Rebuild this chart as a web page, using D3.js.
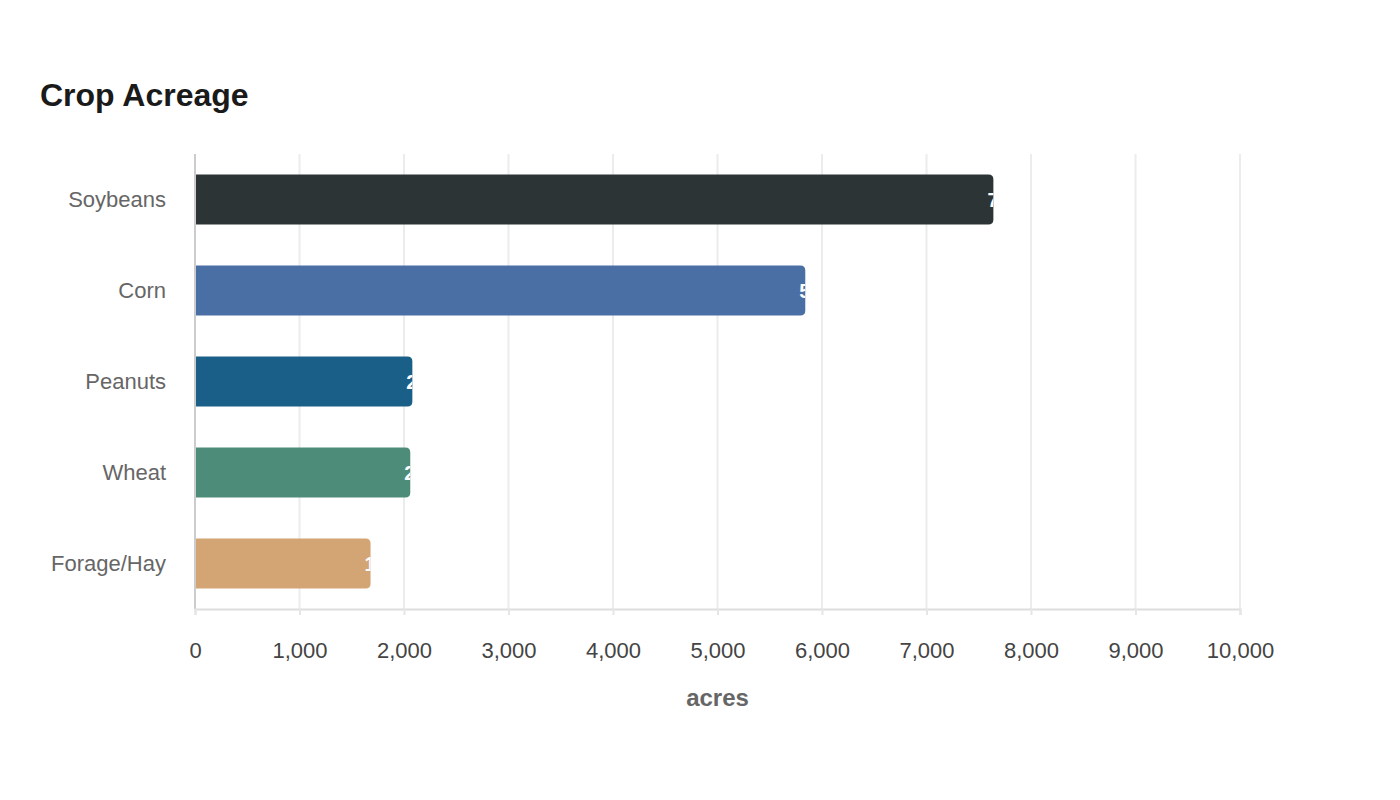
<!DOCTYPE html>
<html>
<head>
<meta charset="utf-8">
<script src="https://cdn.jsdelivr.net/npm/d3@7"></script>
<style>
  body { margin: 0; background: #fff; }
  svg { font-family: "Liberation Sans", Arial, sans-serif; }
</style>
</head>
<body>
<svg width="1400" height="800"></svg>
<script>
const crops = ['Soybeans', 'Corn', 'Peanuts', 'Wheat', 'Forage/Hay'];
const acres = [7640, 5840, 2080, 2060, 1680];
const colors = ['#2d3436', '#4a6fa5', '#1a5f87', '#4e8c7a', '#d4a574'];
const xTicks = [0, 1000, 2000, 3000, 4000, 5000, 6000, 7000, 8000, 9000, 10000];

const margin = { top: 154, right: 160, bottom: 191, left: 195 };
const width = 1400 - margin.left - margin.right;
const height = 800 - margin.top - margin.bottom;

const svg = d3.select('svg');

svg.append('text')
    .attr('x', 40)
    .attr('y', 106)
    .attr('font-size', '32px')
    .attr('font-weight', 'bold')
    .attr('fill', '#1a1a1a')
    .text('Crop Acreage');

const g = svg.append('g')
    .attr('transform', 'translate(' + margin.left + ',' + margin.top + ')');

const x = d3.scaleLinear().domain([0, 10000]).range([0, width]);
const y = d3.scaleBand().domain(crops).range([0, height])
    .paddingInner(0.45).paddingOuter(0.225);

// bars, rounded on the right end only
const r = 5;
function barPath(w, h) {
    return 'M0,0H' + (w - r) + 'Q' + w + ',0 ' + w + ',' + r +
        'V' + (h - r) + 'Q' + w + ',' + h + ' ' + (w - r) + ',' + h + 'H0Z';
}

// value labels sit under the grid, so they only show on the bar itself
const labels = g.append('g');

// grid
g.append('g')
    .selectAll('line')
    .data(xTicks)
    .enter().append('line')
    .attr('x1', d => x(d))
    .attr('x2', d => x(d))
    .attr('y1', 0)
    .attr('y2', height)
    .attr('stroke', '#ececec')
    .attr('stroke-width', 2);

const bar = g.append('g')
    .selectAll('path')
    .data(crops)
    .enter().append('path')
    .attr('transform', d => 'translate(0,' + y(d) + ')')
    .attr('d', (d, i) => barPath(x(acres[i]), y.bandwidth()))
    .attr('fill', (d, i) => colors[i]);

// labels drawn again on top, clipped to each bar
const defs = svg.append('defs');
crops.forEach((c, i) => {
    defs.append('clipPath')
        .attr('id', 'clip' + i)
        .append('path')
        .attr('transform', 'translate(0,' + y(c) + ')')
        .attr('d', barPath(x(acres[i]), y.bandwidth()));
});

function addLabels(sel, clip) {
    sel.selectAll('text')
        .data(crops)
        .enter().append('text')
        .attr('clip-path', (d, i) => clip ? 'url(#clip' + i + ')' : null)
        .attr('x', (d, i) => x(acres[i]) - 6)
        .attr('y', d => y(d) + y.bandwidth() / 2)
        .attr('dy', '0.35em')
        .attr('font-size', '20px')
        .attr('font-weight', 'bold')
        .attr('fill', '#fff')
        .text((d, i) => d3.format(',')(acres[i]));
}
addLabels(labels, false);
addLabels(g.append('g'), true);

// y axis
g.append('line')
    .attr('x1', 0).attr('x2', 0)
    .attr('y1', 0).attr('y2', height)
    .attr('stroke', '#cccccc')
    .attr('stroke-width', 2);

g.append('g')
    .selectAll('text')
    .data(crops)
    .enter().append('text')
    .attr('x', -29)
    .attr('y', d => y(d) + y.bandwidth() / 2)
    .attr('dy', '0.35em')
    .attr('text-anchor', 'end')
    .attr('font-size', '22px')
    .attr('fill', '#666')
    .text(d => d);

// x axis
const xAxis = g.append('g')
    .attr('transform', 'translate(0,' + height + ')')
    .call(d3.axisBottom(x).tickValues(xTicks).tickFormat(d3.format(',')).tickSize(6).tickPadding(27));

xAxis.select('.domain').attr('stroke', '#dddddd').attr('stroke-width', 2);
xAxis.selectAll('.tick line').attr('stroke', '#e6e6e6').attr('stroke-width', 2);
xAxis.selectAll('.tick text')
    .attr('font-size', '22px')
    .attr('font-family', '"Liberation Sans", Arial, sans-serif')
    .attr('fill', '#444');

g.append('text')
    .attr('x', width / 2)
    .attr('y', height + 97)
    .attr('text-anchor', 'middle')
    .attr('font-size', '24px')
    .attr('font-weight', 'bold')
    .attr('fill', '#666')
    .text('acres');
</script>
</body>
</html>
